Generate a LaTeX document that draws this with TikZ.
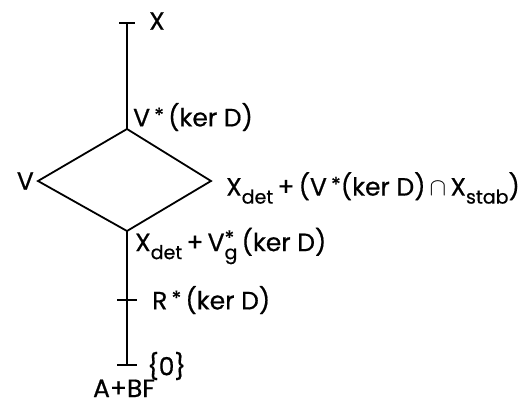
\documentclass[tikz,border=0pt]{standalone}
\usepackage{fontspec}
\setmainfont{Poppins}[FakeBold=0.6]
\newcommand\sbs[1]{\raisebox{-8pt}{\fontsize{19}{19}\selectfont #1}}
\newcommand\sps{\raisebox{4pt}{\fontsize{20}{20}\selectfont *}}
\newcommand\spsg{\raisebox{6pt}{\fontsize{20}{20}\selectfont *}}
\begin{document}
\begin{tikzpicture}[x=1pt,y=-1pt,
  edge/.style={line width=1.8pt},
  lbl/.style={inner sep=0pt,font=\fontsize{25}{28}\selectfont},
  tickmark/.style={line width=1.8pt}]
\useasboundingbox (0,0) rectangle (532,404);
% coordinates
\coordinate (top) at (127,23);
\coordinate (dT) at (127,129);
\coordinate (dL) at (38,181);
\coordinate (dR) at (211,181);
\coordinate (dB) at (127,231);
\coordinate (r) at (127,300);
\coordinate (bot) at (127,365);
% ticks
\draw[tickmark] ([xshift=-8pt]top) -- ([xshift=8pt]top);
\draw[tickmark] ([xshift=-10pt]r) -- ([xshift=10pt]r);
\draw[tickmark] ([xshift=-10pt]bot) -- ([xshift=10pt]bot);
% lines
\draw[edge] (top) -- (dT);
\draw[edge,line join=miter] (dT) -- (dR) -- (dB) -- (dL) -- cycle;
\draw[edge] (dB) -- (r) -- (bot);
% labels
\node[lbl,anchor=west] (lX) at (149,21) {X};
\node[lbl,anchor=west] (lV1) at (133,117) {V\,\sps\,(ker D)};
\node[lbl,anchor=east] (lV) at (34,181) {V};
\node[lbl,anchor=west] (lR1) at (226,188) {X\sbs{det}\,+\,(V\,\sps(ker D)\,$\cap$\,X\sbs{stab})};
\node[lbl,anchor=west] (lR2) at (135,246) {X\sbs{det}\,+\,V\rlap{\spsg}\sbs{g}\,(ker D)};
\node[lbl,anchor=west] (lR) at (152,300) {R\,\sps\,(ker D)};
\node[lbl,anchor=west] (l0) at (147,366) {\{0\}};
\node[lbl,anchor=base] (lAB) at (124,397) {A+BF};
\end{tikzpicture}
\end{document}
